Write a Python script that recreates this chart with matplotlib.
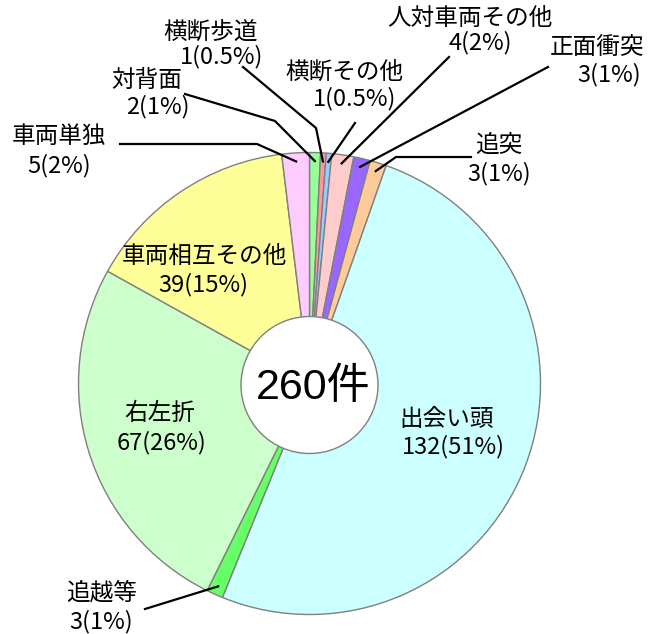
import matplotlib
matplotlib.use("Agg")
import matplotlib.pyplot as plt
import numpy as np

plt.rcParams['font.family'] = ['Noto Sans CJK JP', 'DejaVu Sans']

# data, clockwise from 12 o'clock
labels = ['対背面', '横断歩道', '横断その他', '人対車両その他', '正面衝突', '追突',
          '出会い頭', '追越等', '右左折', '車両相互その他', '車両単独']
counts = [2, 1, 1, 4, 3, 3, 132, 3, 67, 39, 5]
pcts = ['1%', '0.5%', '0.5%', '2%', '1%', '1%', '51%', '1%', '26%', '15%', '2%']
colors = ['#99FF99', '#FF9999', '#99CCFF', '#FFCCCC', '#9966FF', '#FFCC99',
          '#CCFFFF', '#66FF66', '#CCFFCC', '#FFFF99', '#FFCCFF']
total_text = '260件'

W, H = 654, 634
CX, CY, R = 309.5, 383.5, 231
HOLE = 68.5

# label line centres (pixel coords, y down)
label_pos = {
    '対背面': [(147, 80), (158, 107)],
    '横断歩道': [(211, 32), (222, 57)],
    '横断その他': [(344, 72), (355, 99)],
    '人対車両その他': [(470, 18), (480, 43)],
    '正面衝突': [(597, 48), (609, 75)],
    '追突': [(499, 145), (499, 174)],
    '出会い頭': [(447, 420), (453, 447)],
    '追越等': [(102, 593), (101, 622)],
    '右左折': [(160, 413), (162, 443)],
    '車両相互その他': [(204, 256), (203, 285)],
    '車両単独': [(59, 136), (59, 166)],
}
# leader line points from the label side, ending at the wedge
leaders = {
    '対背面': [(185, 94), (275, 121)],
    '横断歩道': [(243, 67), (316, 128)],
    '横断その他': [(355, 123)],
    '人対車両その他': [(449, 57)],
    '正面衝突': [(548, 67)],
    '追突': [(471, 157), (396, 157)],
    '追越等': [(145, 609)],
    '車両単独': [(120, 144), (257, 144)],
}

fig = plt.figure(figsize=(W / 100, H / 100), dpi=100)
ax = fig.add_axes([0, 0, 1, 1])

# y axis inverted, so startangle -90 + counterclock draws clockwise from top
wedges, _ = ax.pie(counts, colors=colors, startangle=-90, counterclock=True,
                   center=(CX, CY), radius=R,
                   wedgeprops=dict(edgecolor='#808080', linewidth=1))
ax.set_xlim(0, W)
ax.set_ylim(H, 0)
ax.set_aspect('equal')
ax.axis('off')

ax.add_patch(plt.Circle((CX, CY + 1.5), HOLE, facecolor='white',
                        edgecolor='#808080', linewidth=1, zorder=3))
ax.text(CX + 3.5, CY + 5, total_text, ha='center', va='center', fontsize=31,
        family=['Liberation Sans', 'Noto Sans CJK JP'], zorder=4)

for w, name, n, p in zip(wedges, labels, counts, pcts):
    (x1, y1), (x2, y2) = label_pos[name]
    ax.text(x1, y1, name, ha='center', va='center', fontsize=17, zorder=5)
    ax.text(x2, y2, f'{n}({p})', ha='center', va='center', fontsize=17, zorder=5)
    if name in leaders:
        mid = np.deg2rad((w.theta1 + w.theta2) / 2)
        ax_ = CX + 0.963 * R * np.cos(mid)
        ay_ = CY + 0.963 * R * np.sin(mid)
        pts = leaders[name] + [(ax_, ay_)]
        xs = [q[0] for q in pts]
        ys = [q[1] for q in pts]
        ax.plot(xs, ys, color='black', linewidth=1.6, zorder=5)

fig.savefig('out.png', dpi=100)
